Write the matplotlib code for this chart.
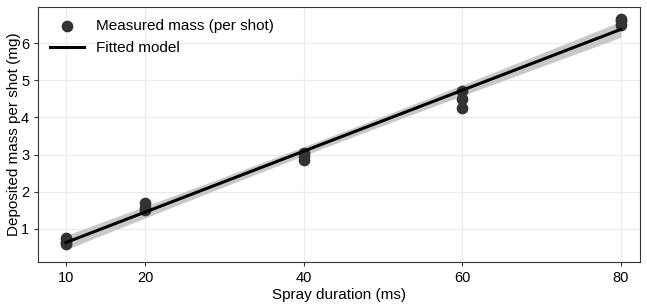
import numpy as np
import matplotlib.pyplot as plt

plt.rcParams['font.family'] = ['Liberation Sans', 'DejaVu Sans']

# spray duration (ms) and measured mass per shot (mg)
duration = [10, 10, 10, 20, 20, 20, 40, 40, 40, 60, 60, 60, 80, 80, 80]
mass = [0.75, 0.65, 0.6, 1.7, 1.55, 1.5, 3.05, 2.95, 2.85, 4.72, 4.5, 4.25, 6.65, 6.6, 6.5]
xticks = [10, 20, 40, 60, 80]

x = np.array(duration, dtype=float)
y = np.array(mass)
slope, icpt = np.polyfit(x, y, 1)
xs = np.linspace(10, 80, 100)
ys = slope * xs + icpt
resid = y - (slope * x + icpt)
s = np.sqrt(np.sum(resid ** 2) / (len(x) - 2))
se = s * np.sqrt(1 / len(x) + (xs - x.mean()) ** 2 / np.sum((x - x.mean()) ** 2))
band = 2.16 * se

fig, ax = plt.subplots(figsize=(6.47, 3.07), dpi=100)
ax.fill_between(xs, ys - band, ys + band, color='#c8c8c8', lw=0, zorder=1)
ax.scatter(x, y, s=55, color='#333333', zorder=3, label='Measured mass (per shot)')
ax.plot(xs, ys, color='black', lw=2.2, zorder=4, label='Fitted model')

ax.set_xlim(6.5, 82.4)
ax.set_ylim(0.11, 6.97)
ax.set_xticks(xticks)
ax.set_yticks([1, 2, 3, 4, 5, 6])
ax.grid(True, color='#ebebeb', lw=0.8)
ax.set_axisbelow(True)
ax.tick_params(labelsize=10.5, length=3, color='#333333')
for sp in ax.spines.values():
    sp.set_color('#333333')
ax.set_xlabel('Spray duration (ms)', fontsize=11, labelpad=2)
ax.set_ylabel('Deposited mass per shot (mg)', fontsize=11, labelpad=0)
ax.legend(loc='upper left', frameon=False, fontsize=11, handlelength=2.2,
          borderaxespad=0.4)

fig.subplots_adjust(left=0.059, right=0.989, top=0.977, bottom=0.147)
fig.savefig('out.png')
